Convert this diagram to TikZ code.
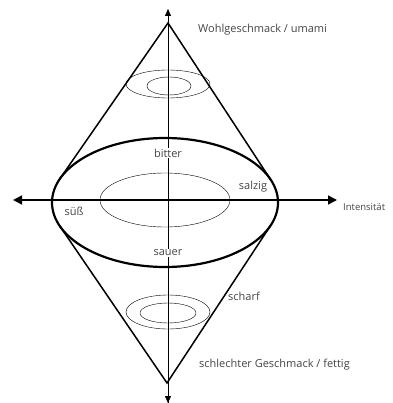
\documentclass[tikz,border=0pt]{standalone}
\usepackage{fontspec}
\setmainfont{Open Sans}
\usetikzlibrary{arrows.meta}
\definecolor{txt}{HTML}{444444}
\definecolor{thin}{HTML}{666666}
\begin{document}
\begin{tikzpicture}[x=1pt,y=-1pt,
  lbl/.style={font=\fontsize{11}{13}\selectfont, text=txt, inner sep=0pt},
  cone/.style={line width=1.5pt, black},
  ring/.style={line width=0.8pt, thin},
  bigring/.style={line width=2.2pt, black}]
\useasboundingbox (0,0) rectangle (392,403);
% coordinates
\coordinate (top) at (168,23);
\coordinate (bot) at (167,383);
\coordinate (tl) at (59.9,178.7);
\coordinate (tr) at (270.8,179.9);
\coordinate (bl) at (59.7,225.9);
\coordinate (br) at (270.8,225.2);
\coordinate (vt) at (168,9);
\coordinate (vb) at (168,403);
\coordinate (vm) at (168,390);
\coordinate (hl) at (13,200);
\coordinate (hr) at (337,200);
% vertical axis
\draw[line width=0.8pt, thin, -{Triangle[length=7pt,width=6pt,black]}] (vb) -- (vt);
\draw[line width=0.8pt, thin, -{Triangle[length=7pt,width=6pt,black]}] (vm) -- (vb);
% small ellipses
\draw[ring] (168,84) ellipse [x radius=42, y radius=14];
\draw[ring] (169,86) ellipse [x radius=22, y radius=9];
\draw[ring] (168,312) ellipse [x radius=42, y radius=17];
\draw[ring] (168,313) ellipse [x radius=28, y radius=10];
% inner ellipse
\draw[ring] (165,200) ellipse [x radius=65, y radius=27];
% big ellipse
\draw[bigring] (165,202.5) ellipse [x radius=113, y radius=64.5];
% cone
\draw[cone] (tl) -- (top) -- (tr);
\draw[cone] (bl) -- (bot) -- (br);
% horizontal axis
\draw[line width=1.6pt, {Triangle[length=9pt,width=9pt]}-{Triangle[length=9pt,width=9pt]}] (hl) -- (hr);
% labels
\node[lbl, anchor=west] (umami) at (198,30) {Wohlgeschmack / umami};
\node[lbl, fill=white, inner sep=1pt] (bitter) at (168,153) {bitter};
\node[lbl] (salzig) at (253,187) {salzig};
\node[lbl] (suess) at (74,211) {süß};
\node[lbl, fill=white, inner sep=1pt] (sauer) at (168,253) {sauer};
\node[lbl, anchor=west, font=\fontsize{9.5}{11}\selectfont] (int) at (343,207) {Intensität};
\node[lbl, anchor=west] (scharf) at (228,296) {scharf};
\node[lbl, anchor=west] (fettig) at (199,365) {schlechter Geschmack / fettig};
\end{tikzpicture}
\end{document}
